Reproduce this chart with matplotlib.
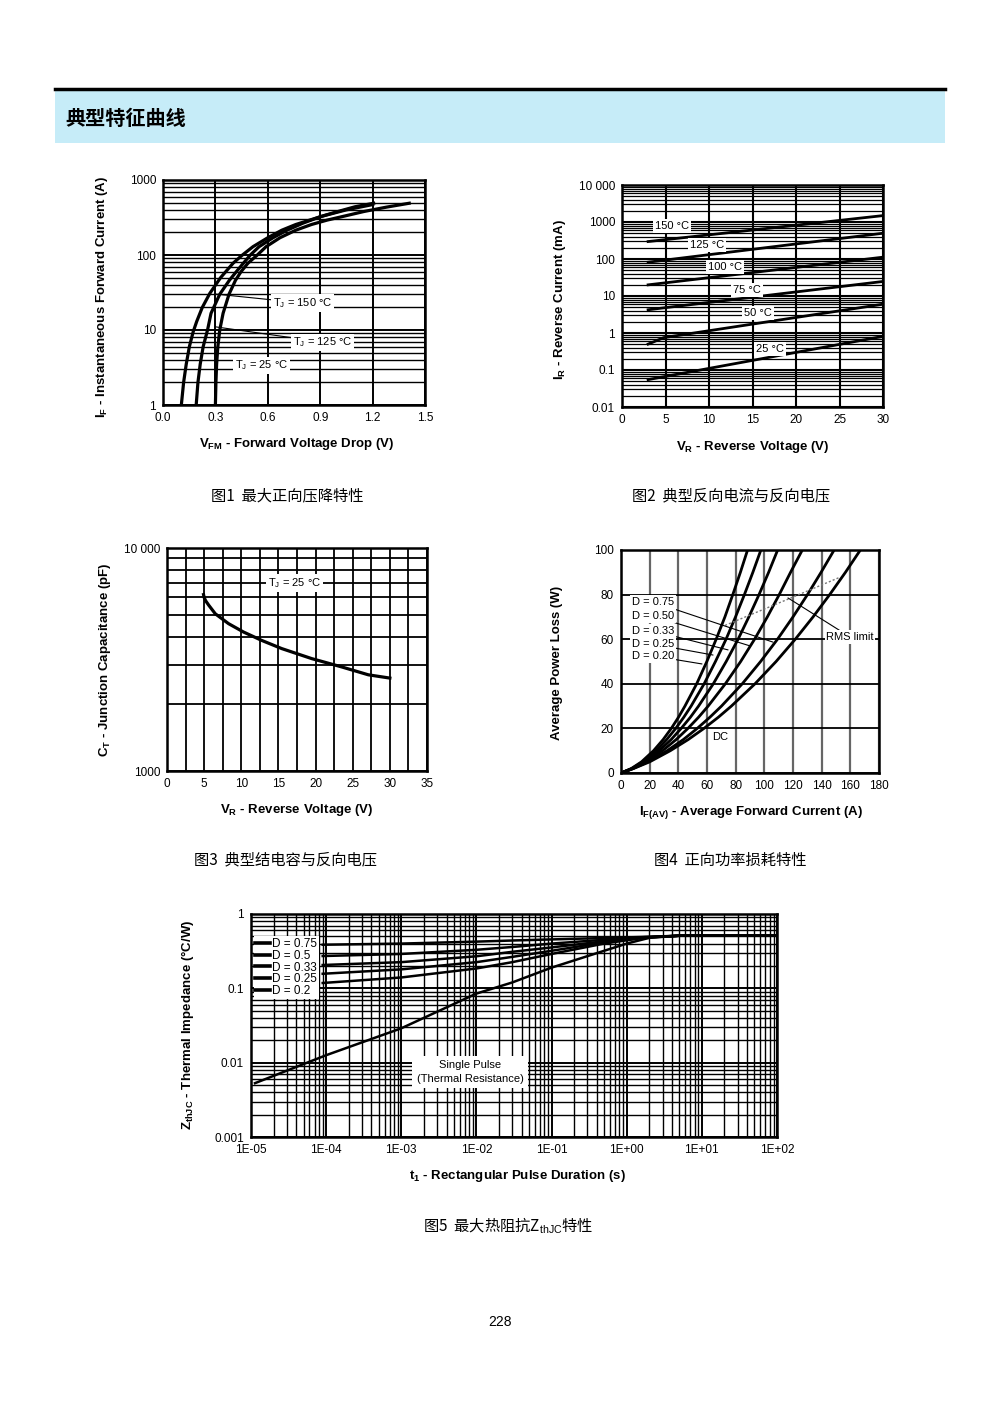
import numpy as np
import matplotlib
matplotlib.use('Agg')
import matplotlib.pyplot as plt
from matplotlib.ticker import LogLocator, MultipleLocator, NullFormatter
from matplotlib.patches import Rectangle
from matplotlib.lines import Line2D

plt.rcParams['font.family'] = ['Liberation Sans', 'DejaVu Sans']
plt.rcParams['mathtext.fontset'] = 'custom'
plt.rcParams['mathtext.rm'] = 'Liberation Sans'
plt.rcParams['mathtext.bf'] = 'Liberation Sans:bold'
plt.rcParams['mathtext.it'] = 'Liberation Sans:italic'
CJK = ['Noto Sans CJK SC', 'DejaVu Sans']

# ---------------- data ----------------
# Fig 1: forward characteristics
vf_150 = [0.105, 0.118, 0.133, 0.151, 0.173, 0.193, 0.225, 0.268, 0.330, 0.401, 0.45, 0.515, 0.60, 0.68,
          0.76, 0.84, 0.93, 1.01, 1.10, 1.206]
if_150 = [1, 2, 3.5, 6, 9.5, 13, 20, 30.8, 50, 77.6, 98, 129, 170, 214, 255, 292, 340, 385, 440, 490]
vf_125 = [0.19, 0.20, 0.213, 0.23, 0.255, 0.275, 0.325, 0.38, 0.42, 0.46, 0.50, 0.55, 0.63, 0.71, 0.80,
          0.90, 1.05, 1.20]
if_125 = [1, 2, 3.5, 6, 10, 16.7, 30, 46, 60, 77.6, 100, 129, 170, 214, 265, 324, 400, 470]
vf_25 = [0.300, 0.303, 0.307, 0.314, 0.325, 0.344, 0.378, 0.415, 0.447, 0.486, 0.54, 0.59, 0.67, 0.76,
         0.85, 0.94, 1.05, 1.15, 1.28, 1.41]
if_25 = [1, 2, 3.5, 6, 10, 16.7, 30, 46, 60, 77.6, 100, 129, 170, 214, 255, 292, 335, 380, 435, 490]

# Fig 2: reverse current vs reverse voltage
vr_2 = [3, 30]
ir_150 = [296, 1489]
ir_125 = [82, 497]
ir_100 = [20, 112]
ir_75 = [4.25, 24.7]
vr_50 = [3, 4.8, 30]
ir_50 = [0.50, 0.75, 6.0]
ir_25 = [0.055, 0.81]
temp_labels = ['150 °C', '125 °C', '100 °C', '75 °C', '50 °C', '25 °C']

# Fig 3: junction capacitance
vr_3 = [4.92, 5.0, 5.2, 5.6, 6.5, 8.28, 10.3, 12.76, 15.44, 19.5, 23.5, 27.1, 30]
ct_3 = [6180, 6000, 5800, 5550, 5070, 4580, 4200, 3850, 3540, 3190, 2930, 2700, 2610]

# Fig 4: average power loss
p_levels = [0, 2, 5, 10, 15, 20, 25, 30, 40, 50, 60, 70, 80, 90, 100]
i_dc = [0, 8.7, 20, 34.4, 46.9, 57.9, 67.9, 77, 93.5, 108.2, 121.6, 134, 145.6, 156.6, 167]
i_075 = [0, 8.5, 18.7, 32.2, 43.5, 53.2, 62.0, 70.1, 84.6, 97.4, 109.2, 120, 130.1, 139.6, 148.7]
i_050 = [0, 8.1, 17.2, 29, 38.5, 46.7, 54.1, 60.8, 72.8, 83.5, 93.2, 102.1, 110.4, 118.3, 126.5]
i_033 = [0, 7.9, 16.2, 26.6, 35, 42, 48.4, 54.1, 64.4, 73.4, 81.7, 89.2, 96.3, 103, 109.3]
i_025 = [0, 7.6, 15.2, 24.6, 31.9, 38.2, 43.8, 48.9, 58, 65.9, 73.3, 79.9, 86.1, 92, 97.6]
i_020 = [0, 7.2, 14.3, 22.7, 29.4, 35.1, 40.1, 44.6, 52.8, 59.9, 66.4, 72.5, 78, 83.3, 88.3]
rms_i = [72.6, 116.7, 152.8]
rms_p = [66.2, 78, 87.8]
duty_labels4 = ['D = 0.75', 'D = 0.50', 'D = 0.33', 'D = 0.25', 'D = 0.20']

# Fig 5: transient thermal impedance
t_duty = [9e-5, 1e-3, 1e-2, 3e-2, 0.1, 0.5, 1.5, 5, 100]
z_075 = [0.386, 0.40, 0.425, 0.44, 0.455, 0.475, 0.49, 0.51, 0.51]
z_050 = [0.272, 0.29, 0.33, 0.36, 0.40, 0.45, 0.485, 0.51, 0.51]
z_033 = [0.206, 0.225, 0.27, 0.31, 0.355, 0.43, 0.48, 0.51, 0.51]
z_025 = [0.157, 0.18, 0.225, 0.265, 0.32, 0.415, 0.475, 0.51, 0.51]
z_020 = [0.118, 0.14, 0.185, 0.225, 0.29, 0.40, 0.47, 0.51, 0.51]
t_single = [1.13e-5, 1e-4, 1e-3, 1e-2, 3e-2, 0.1, 1, 2.2, 5, 100]
z_single = [0.0053, 0.0126, 0.029, 0.085, 0.12, 0.19, 0.40, 0.49, 0.51, 0.51]
duty_labels5 = ['D = 0.75', 'D = 0.5', 'D = 0.33', 'D = 0.25', 'D = 0.2']

# ---------------- figure ----------------
W, H = 1000, 1414
fig = plt.figure(figsize=(10, 14.14), dpi=100)

fig.add_artist(Rectangle((55 / W, 1 - 143 / H), 890 / W, 53 / H, transform=fig.transFigure,
                         facecolor='#c6ecf8', edgecolor='none'))
fig.add_artist(Line2D([55 / W, 945 / W], [1 - 88.5 / H] * 2, transform=fig.transFigure,
                      color='black', lw=2.5))
fig.text(65 / W, 1 - 118 / H, '典型特征曲线', family=CJK, fontsize=14.5, fontweight='bold', va='center')

TICK_FS = 8.5
LAB_FS = 9.5


def mkax(x0, y0, x1, y1):
    ax = fig.add_axes([x0 / W, 1 - y1 / H, (x1 - x0) / W, (y1 - y0) / H])
    for s in ax.spines.values():
        s.set_linewidth(1.8)
        s.set_zorder(5)
    ax.tick_params(which='both', length=0, labelsize=TICK_FS, pad=5)
    ax.set_axisbelow(True)
    return ax


def axlabels(ax, xl, xpos, yl, ypos):
    ax.text(xpos[0], xpos[1], xl, transform=ax.transAxes, ha='center', va='center',
            fontsize=LAB_FS, fontweight='bold')
    ax.text(ypos[0], ypos[1], yl, transform=ax.transAxes, ha='center', va='center',
            fontsize=LAB_FS, fontweight='bold', rotation=90)


def caption(x, y, s):
    fig.text(x / W, 1 - y / H, s, family=CJK, fontsize=11, ha='center', va='center')


wbox = dict(facecolor='white', edgecolor='none', pad=1.2)
lead = dict(arrowstyle='-', lw=0.8, color='k', shrinkA=0, shrinkB=0)

# ---- Fig 1 ----
ax1 = mkax(163, 180, 425, 405)
ax1.set_yscale('log')
ax1.set_xlim(0, 1.5)
ax1.set_ylim(1, 1000)
ax1.set_xticks([0, 0.3, 0.6, 0.9, 1.2, 1.5])
ax1.set_xticklabels(['0.0', '0.3', '0.6', '0.9', '1.2', '1.5'])
ax1.set_yticks([1, 10, 100, 1000])
ax1.set_yticklabels(['1', '10', '100', '1000'])
ax1.yaxis.set_minor_locator(LogLocator(subs=np.arange(2, 10)))
ax1.yaxis.set_minor_formatter(NullFormatter())
ax1.grid(True, which='major', color='k', lw=1.4)
ax1.grid(True, which='minor', axis='y', color='k', lw=1.0)
for v, i in [(vf_150, if_150), (vf_125, if_125), (vf_25, if_25)]:
    ax1.plot(v, i, color='k', lw=2.3, zorder=3, solid_joinstyle='round')
ax1.annotate(r'T$_\mathrm{J}$ = 150 °C', xy=(0.298, 30.2), xytext=(0.63, 22.9), fontsize=8,
             ha='left', va='center', bbox=wbox, zorder=4, arrowprops=lead)
ax1.annotate(r'T$_\mathrm{J}$ = 125 °C', xy=(0.303, 11), xytext=(0.744, 6.9), fontsize=8,
             ha='left', va='center', bbox=wbox, zorder=4, arrowprops=lead)
ax1.text(0.412, 3.4, r'T$_\mathrm{J}$ = 25 °C', fontsize=8, ha='left', va='center', bbox=wbox, zorder=4)
axlabels(ax1, r'V$_\mathbf{FM}$ - Forward Voltage Drop (V)', (0.511, -0.173),
         r'I$_\mathbf{F}$ - Instantaneous Forward Current (A)', (-0.233, 0.48))
caption(287, 496, '图1  最大正向压降特性')

# ---- Fig 2 ----
ax2 = mkax(622, 185, 883, 407)
ax2.set_yscale('log')
ax2.set_xlim(0, 30)
ax2.set_ylim(0.01, 10000)
ax2.set_xticks([0, 5, 10, 15, 20, 25, 30])
ax2.set_yticks([0.01, 0.1, 1, 10, 100, 1000, 10000])
ax2.set_yticklabels(['0.01', '0.1', '1', '10', '100', '1000', '10 000'])
ax2.yaxis.set_minor_locator(LogLocator(subs=np.arange(2, 10), numticks=20))
ax2.yaxis.set_minor_formatter(NullFormatter())
ax2.grid(True, which='major', color='k', lw=1.5)
ax2.grid(True, which='minor', axis='y', color='k', lw=0.9)
for v, i in [(vr_2, ir_150), (vr_2, ir_125), (vr_2, ir_100), (vr_2, ir_75), (vr_50, ir_50), (vr_2, ir_25)]:
    ax2.plot(v, i, color='k', lw=2.0, zorder=3)
lab_pos2 = [(5.75, 780), (9.77, 239), (11.84, 60.8), (14.37, 14.5), (15.63, 3.47), (17.0, 0.37)]
for (x, y), s in zip(lab_pos2, temp_labels):
    ax2.text(x, y, s, fontsize=8, ha='center', va='center', bbox=wbox, zorder=4)
axlabels(ax2, r'V$_\mathbf{R}$ - Reverse Voltage (V)', (0.502, -0.18),
         r'I$_\mathbf{R}$ - Reverse Current (mA)', (-0.238, 0.482))
caption(731, 496, '图2  典型反向电流与反向电压')

# ---- Fig 3 ----
ax3 = mkax(167, 548, 427, 771)
ax3.set_yscale('log')
ax3.set_xlim(0, 35)
ax3.set_ylim(1000, 10000)
ax3.set_xticks([0, 5, 10, 15, 20, 25, 30, 35])
ax3.xaxis.set_minor_locator(MultipleLocator(2.5))
ax3.set_yticks([1000, 10000])
ax3.set_yticklabels(['1000', '10 000'])
ax3.yaxis.set_minor_locator(LogLocator(subs=np.arange(2, 10)))
ax3.yaxis.set_minor_formatter(NullFormatter())
ax3.grid(True, which='both', color='k', lw=1.3)
ax3.plot(vr_3, ct_3, color='k', lw=2.3, zorder=3, solid_joinstyle='round')
ax3.text(17.2, 6970, r'T$_\mathrm{J}$ = 25 °C', fontsize=8, ha='center', va='center', bbox=wbox, zorder=4)
axlabels(ax3, r'V$_\mathbf{R}$ - Reverse Voltage (V)', (0.5, -0.175),
         r'C$_\mathbf{T}$ - Junction Capacitance (pF)', (-0.238, 0.498))
caption(286, 860, '图3  典型结电容与反向电压')

# ---- Fig 4 ----
ax4 = mkax(621, 550, 879, 773)
ax4.set_xlim(0, 180)
ax4.set_ylim(0, 100)
ax4.set_xticks(np.arange(0, 181, 20))
ax4.set_yticks(np.arange(0, 101, 20))
ax4.grid(True, axis='x', color='#666666', lw=1.6)
ax4.grid(True, axis='y', color='k', lw=1.3)
for i in [i_dc, i_075, i_050, i_033, i_025, i_020]:
    ax4.plot(i, p_levels, color='k', lw=2.0, zorder=3, solid_joinstyle='round')
ax4.plot(rms_i, rms_p, color='#777777', lw=1.0, ls=(0, (1.5, 1.5)), zorder=3)
lab_y4 = [76.7, 70.4, 63.7, 57.8, 52.5]
lead_end4 = [(106, 58.7), (90, 57), (74.7, 55.2), (64.2, 52.9), (56.5, 48.9)]
for s, y, xy in zip(duty_labels4, lab_y4, lead_end4):
    ax4.annotate(s, xy=xy, xytext=(7.7, y), fontsize=8, ha='left', va='center', bbox=wbox, zorder=4,
                 arrowprops=lead)
ax4.annotate('RMS limit', xy=(116.5, 78.5), xytext=(159.8, 61), fontsize=8, ha='center', va='center',
             bbox=wbox, zorder=4, arrowprops=lead)
ax4.text(69, 16.1, 'DC', fontsize=8, ha='center', va='center', bbox=wbox, zorder=4)
axlabels(ax4, r'I$_\mathbf{F(AV)}$ - Average Forward Current (A)', (0.504, -0.179),
         'Average Power Loss (W)', (-0.248, 0.493))
caption(730, 860, '图4  正向功率损耗特性')

# ---- Fig 5 ----
ax5 = mkax(251, 914, 777, 1137)
ax5.set_xscale('log')
ax5.set_yscale('log')
ax5.set_xlim(1e-5, 1e2)
ax5.set_ylim(1e-3, 1)
xt = [1e-5, 1e-4, 1e-3, 1e-2, 1e-1, 1e0, 1e1, 1e2]
ax5.set_xticks(xt)
ax5.set_xticklabels(['1E-05', '1E-04', '1E-03', '1E-02', '1E-01', '1E+00', '1E+01', '1E+02'])
ax5.set_yticks([1e-3, 1e-2, 1e-1, 1])
ax5.set_yticklabels(['0.001', '0.01', '0.1', '1'])
ax5.xaxis.set_minor_locator(LogLocator(subs=np.arange(2, 10), numticks=20))
ax5.yaxis.set_minor_locator(LogLocator(subs=np.arange(2, 10), numticks=20))
ax5.xaxis.set_minor_formatter(NullFormatter())
ax5.yaxis.set_minor_formatter(NullFormatter())
ax5.grid(True, which='major', color='k', lw=1.4)
ax5.grid(True, which='minor', color='k', lw=1.0)
handles = []
for z in [z_075, z_050, z_033, z_025, z_020]:
    h, = ax5.plot(t_duty, z, color='k', lw=1.8, zorder=3)
    handles.append(h)
ax5.plot(t_single, z_single, color='k', lw=1.8, zorder=3)
leg = ax5.legend(handles, duty_labels5, loc='upper left', bbox_to_anchor=(0.005, 0.9), fontsize=8.5,
                 frameon=True, fancybox=False, framealpha=1, edgecolor='none', facecolor='white',
                 handlelength=1.2, handletextpad=0.2, borderpad=0.15, labelspacing=-0.02,
                 borderaxespad=0)
for lh in leg.get_lines():
    lh.set_linewidth(2.6)
leg.set_zorder(6)
ax5.text(8.2e-3, 0.0075, 'Single Pulse\n(Thermal Resistance)', fontsize=8, ha='center', va='center',
         linespacing=1.5, bbox=dict(facecolor='white', edgecolor='none', pad=3), zorder=4)
axlabels(ax5, r't$_\mathbf{1}$ - Rectangular Pulse Duration (s)', (0.506, -0.175),
         r'Z$_\mathbf{thJC}$ - Thermal Impedance (°C/W)', (-0.12, 0.502))
caption(508, 1226, '图5  最大热阻抗Z$_\\mathrm{thJC}$特性')

fig.text(0.5, 1 - 1322 / H, '228', fontsize=10, ha='center', va='center')

fig.savefig('out.png', dpi=100)
